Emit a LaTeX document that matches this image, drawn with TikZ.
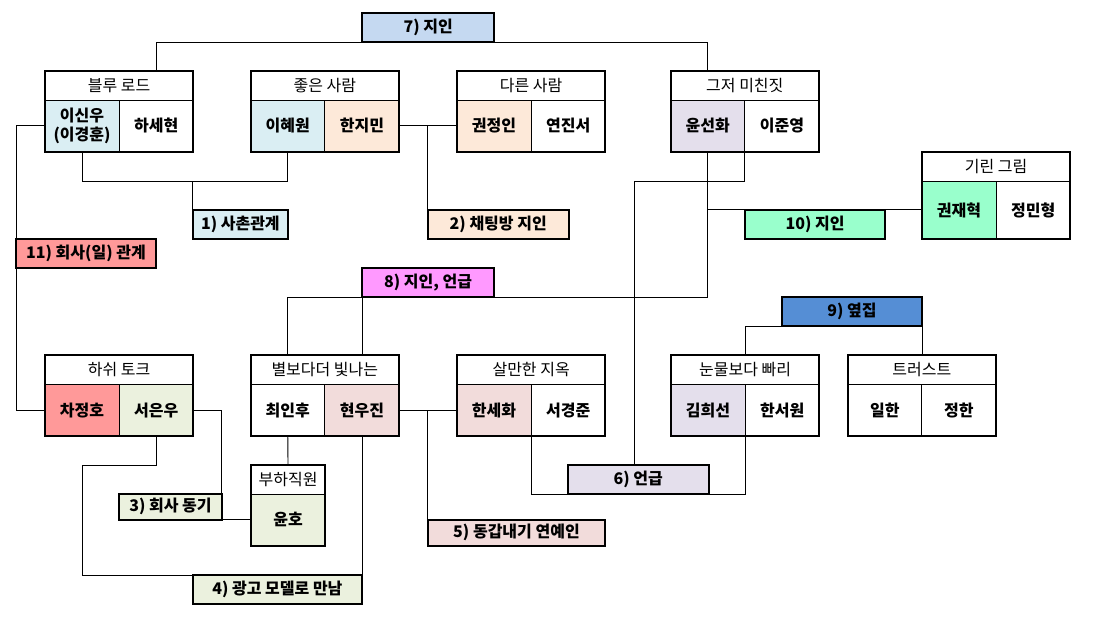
\documentclass[tikz,border=0pt]{standalone}
\usepackage{fontspec}
\setmainfont{Noto Sans CJK KR}
\usepackage{xcolor}
\usetikzlibrary{positioning}
\definecolor{sky}{HTML}{DAEEF3}
\definecolor{peach}{HTML}{FDE9D9}
\definecolor{sage}{HTML}{EBF1DE}
\definecolor{rose}{HTML}{F2DCDB}
\definecolor{lilac}{HTML}{E4DFEC}
\definecolor{lblue}{HTML}{C5D9F1}
\definecolor{pink}{HTML}{FF99FF}
\definecolor{mblue}{HTML}{558ED5}
\definecolor{mint}{HTML}{99FFCC}
\definecolor{salmon}{HTML}{FF9999}
\tikzstyle{hdr} = [draw, line width=0.6pt, fill=white, minimum width=111.2pt, minimum height=22pt, inner sep=0pt, outer sep=0pt, font=\fontsize{12}{14.5}\selectfont]
\tikzstyle{cell} = [draw, line width=0.6pt, minimum width=55.6pt, minimum height=38.8pt, inner sep=0pt, outer sep=0pt, align=center, font=\fontsize{12}{14.5}\selectfont\bfseries]
\tikzstyle{frame} = [line width=1.5pt]
\tikzstyle{lbl} = [draw, line width=1.5pt, font=\fontsize{12}{14.5}\selectfont\bfseries, inner sep=0pt, outer sep=0pt, minimum height=22pt, anchor=north west]
\tikzstyle{link} = [line width=0.7pt]

% group: [cell options], name, position, header, left, left fill, right, right fill
\newcommand{\band}[8][]{%
  \node[hdr, anchor=north west] (#2) at (#3) {#4};
  \node[cell, #1, fill=#6, below right=0pt of #2.south west] (#2A) {#5};
  \node[cell, #1, fill=#8, right=0pt of #2A] (#2B) {#7};
  \draw[frame] (#2.north west) rectangle (#2B.south east);
}

\begin{document}
\begin{tikzpicture}[x=0.75pt, y=-0.75pt]
    \useasboundingbox (0,0) rectangle (1097,618);

    % Grupos
    \band{blue}{45,70.7}{블루 로드}{이신우\\(이경훈)}{sky}{하세현}{white}
    \band{good}{250.7,70.7}{좋은 사람}{이혜원}{sky}{한지민}{peach}
    \band{other}{457,70.7}{다른 사람}{권정인}{peach}{연진서}{white}
    \band{crazy}{670.7,70.7}{그저 미친짓}{윤선화}{lilac}{이준영}{white}
    \band[minimum height=43pt]{kirin}{922,152}{기린 그림}{권재혁}{mint}{정민형}{white}
    \band{hash}{45,355}{하쉬 토크}{차정호}{salmon}{서은우}{sage}
    \band{star}{250.7,355}{별보다더 빛나는}{최인후}{white}{현우진}{rose}
    \band{hell}{457,355}{살만한 지옥}{한세화}{rose}{서경준}{white}
    \band{tears}{671,355}{눈물보다 빠리}{김희선}{lilac}{한서원}{white}
    \band{trust}{847.7,355}{트러스트}{일한}{white}{정한}{white}

    \node[hdr, minimum width=56pt, anchor=north west] (sub) at (250.7,464.7) {부하직원};
    \node[cell, minimum width=56pt, fill=sage, below right=0pt of sub.south west] (subA) {윤호};
    \draw[frame] (sub.north west) rectangle (subA.south east);

    % Etiquetas
    \node[lbl, fill=sky, minimum width=71.5pt] (L1) at (192.7,209.7) {1) 사촌관계};
    \node[lbl, fill=peach, minimum width=105.8pt] (L2) at (427.7,209.7) {2) 채팅방 지인};
    \node[lbl, fill=sage, minimum width=77.2pt, minimum height=19.5pt] (L3) at (119,493.7) {3) 회사 동기};
    \node[lbl, fill=sage, minimum width=127pt] (L4) at (192.7,575) {4) 광고 모델로 만남};
    \node[lbl, fill=rose, minimum width=133.2pt, minimum height=19.7pt] (L5) at (427.7,519.7) {5) 동갑내기 연예인};
    \node[lbl, fill=lilac, minimum width=105.8pt] (L6) at (567.7,464.7) {6) 언급};
    \node[lbl, fill=lblue, minimum width=99.2pt] (L7) at (362,12.7) {7) 지인};
    \node[lbl, fill=pink, minimum width=99pt] (L8) at (362,268) {8) 지인, 언급};
    \node[lbl, fill=mblue, minimum width=105pt] (L9) at (782,296.7) {9) 옆집};
    \node[lbl, fill=mint, minimum width=105.2pt] (L10) at (745,209.7) {10) 지인};
    \node[lbl, fill=salmon, minimum width=105pt] (L11) at (16,238.7) {11) 회사(일) 관계};

    \coordinate (j1) at (L1.north west |- 0,181.3);
    \coordinate (j4) at (82.7,465.3);
    \coordinate (j6) at (634.3,181.3);

    % Lineas
    \draw[link] (blueB |- blue.north) |- (L7.south west);
    \draw[link] (L7.south east) -| (crazyA |- crazy.north);
    \draw[link] (blueA.south) |- (j1) -| (goodA.south);
    \draw[link] (j1) -- (L1.north west);
    \draw[link] (goodB.east) -- (otherA.west);
    \draw[link] (L2.north west) -- (L2.north west |- goodB.east);
    \draw[link] (blueA.west) -| (L11.north west);
    \draw[link] (L11.south west) |- (hashA.west);
    \draw[link] (crazyA.south) |- (L8.south east);
    \draw[link] (L8.south west) -| (starA |- star.north);
    \draw[link] (L8.south west) -- (L8.south west |- star.north);
    \draw[link] (crazyA.south |- L10.north west) -- (L10.north west);
    \draw[link] (L10.north east) -- (L10.north east -| kirinA.west);
    \draw[link] (crazyA.south east) |- (j6) -- (j6 |- L6.north);
    \draw[link] (hellA.south east) |- (L6.south west);
    \draw[link] (L6.south east) -| (tearsA.south east);
    \draw[link] (L9.south west) -| (tearsA.north east |- tears.north);
    \draw[link] (L9.south east) -- (L9.south east |- trust.north);
    \draw[link] (hashB.east) -| (L3.north east);
    \draw[link] (L3.south east) -- (L3.south east -| subA.west);
    \draw[link] (hashB.south) |- (j4) |- (L4.north west);
    \draw[link] (L4.north east) -- (L4.north east |- starB.south);
    \draw[link] (starB.east) -- (hellA.west);
    \draw[link] (L5.north west) -- (L5.north west |- starB.east);
    \draw[link] (starA.south) -- (sub.north);
\end{tikzpicture}
\end{document}
